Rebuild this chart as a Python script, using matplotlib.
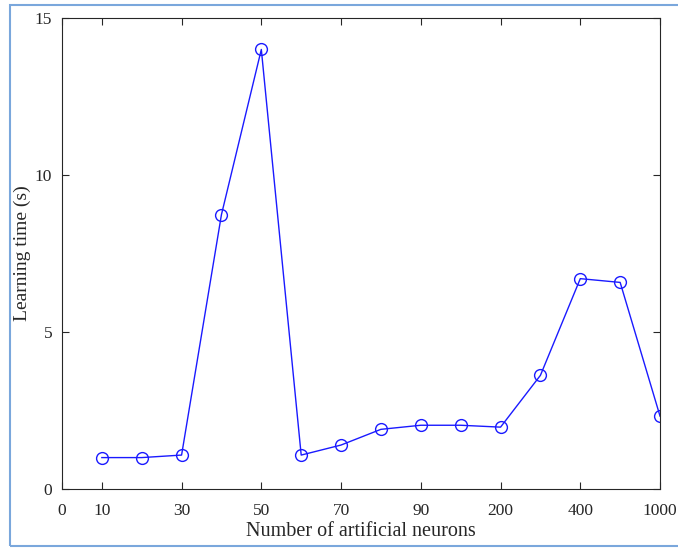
import numpy as np
import matplotlib
matplotlib.use('Agg')
import matplotlib.pyplot as plt
from matplotlib.patches import Rectangle

# data
neurons = ['10', '20', '30', '40', '50', '60', '70', '80', '90', '100', '200', '300', '400', '500', '1000']
learn_time = [1.0, 1.0, 1.08, 8.74, 14.0, 1.08, 1.4, 1.9, 2.03, 2.03, 1.97, 3.62, 6.7, 6.58, 2.32]
tick_pos = [0, 1, 3, 5, 7, 9, 11, 13, 15]
tick_lab = ['0', '10', '30', '50', '70', '90', '200', '400', '1000']

plt.rcParams['font.family'] = ['Liberation Serif', 'DejaVu Serif']

fig = plt.figure(figsize=(6.78, 5.48), dpi=100)
ax = fig.add_axes([0.0914, 0.1077, 0.8821, 0.8593])

x = np.arange(1, len(neurons) + 1)
ax.plot(x, learn_time, color='#1a1aff', lw=1.0, marker='o', ms=8.5,
        mfc='none', mec='#1a1aff', mew=1.0)

ax.set_xlim(0, 15)
ax.set_ylim(0, 15)
ax.set_xticks(tick_pos)
ax.set_xticklabels(tick_lab)
ax.set_yticks([0, 5, 10, 15])
ax.tick_params(direction='in', top=True, right=True, labelsize=12.5,
               colors='#262626', length=5, width=0.8)
ax.tick_params(axis='x', pad=10)
ax.tick_params(axis='y', pad=7)
for s in ax.spines.values():
    s.set_color('#262626')
    s.set_linewidth(0.8)
ax.set_xlabel('Number of artificial neurons', fontsize=14.5, color='#262626', labelpad=2)
ax.set_ylabel('Learning time (s)', fontsize=14, color='#262626', labelpad=2.5)

# light blue frame around the figure
fig.patches.append(Rectangle((0.0147, 0.003), 1.2, 0.988, transform=fig.transFigure,
                             fill=False, edgecolor='#7aa7dc', lw=1.5))

fig.savefig('out.png', dpi=100)
